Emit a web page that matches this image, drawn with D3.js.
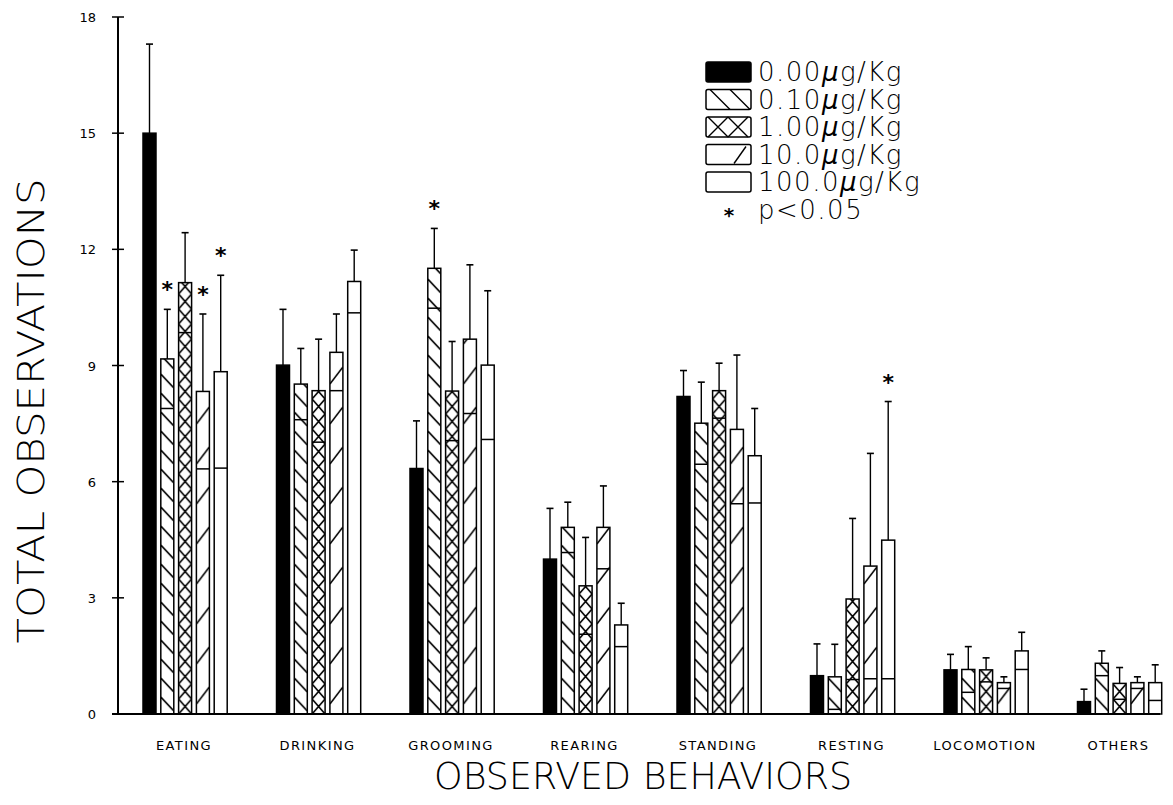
<!DOCTYPE html>
<html>
<head>
<meta charset="utf-8">
<script src="https://cdn.jsdelivr.net/npm/d3@7"></script>
<style>
	body { margin: 0; background: white; }
	svg text { font-family: "DejaVu Sans", sans-serif; fill: black; }
	svg text.light { font-family: "DejaVu Sans ExtraLight", "DejaVu Sans", sans-serif; font-weight: 200; }
</style>
</head>
<body>
<div id="visualizationWrapper"></div>
<script>

let w = 1173;
let h = 805;

// data
let categories = ["EATING", "DRINKING", "GROOMING", "REARING", "STANDING", "RESTING", "LOCOMOTION", "OTHERS"];
let doses = ["0.00", "0.10", "1.00", "10.0", "100.0"];

let mean000 = [15.0, 9.01, 6.34, 4.00, 8.20, 0.99, 1.14, 0.32];
let mean010 = [9.17, 8.52, 11.51, 4.82, 7.51, 0.96, 1.15, 1.31];
let mean100 = [11.14, 8.35, 8.34, 3.31, 8.35, 2.97, 1.14, 0.79];
let mean10 = [8.33, 9.34, 9.68, 4.82, 7.35, 3.82, 0.81, 0.81];
let mean1000 = [8.84, 11.17, 9.01, 2.30, 6.67, 4.49, 1.63, 0.81];

let se000 = [2.30, 1.44, 1.23, 1.31, 0.67, 0.82, 0.40, 0.32];
let se010 = [1.28, 0.92, 1.03, 0.65, 1.06, 0.84, 0.59, 0.32];
let se100 = [1.29, 1.33, 1.28, 1.25, 0.71, 2.08, 0.31, 0.41];
let se10 = [2.00, 0.99, 1.92, 1.07, 1.92, 2.91, 0.15, 0.15];
let se1000 = [2.49, 0.81, 1.92, 0.56, 1.22, 3.58, 0.48, 0.46];

let significant = [["EATING", "0.10"], ["EATING", "10.0"], ["EATING", "100.0"], ["GROOMING", "0.10"], ["RESTING", "100.0"]];

let yTicks = [0, 3, 6, 9, 12, 15, 18];

let means = [mean000, mean010, mean100, mean10, mean1000];
let ses = [se000, se010, se100, se10, se1000];

let data = [];
categories.forEach(function(c, ci){
	doses.forEach(function(d, di){
		data.push({
			cat: c, dose: d, ci: ci, di: di,
			mean: means[di][ci], se: ses[di][ci],
			sig: significant.some(s => s[0] == c && s[1] == d)
		});
	});
});


let viz = d3.select("#visualizationWrapper").append("svg")
	.attr("width", w)
	.attr("height", h)
	.style("background-color", "white")
;

let axisX = 118;
let xScale = d3.scaleBand().domain(categories).range([143, 143 + 8 * 133.5]);
let x1Scale = d3.scaleBand().domain(doses).range([0, 84.2]).paddingInner(0.27).paddingOuter(0);
let yScale = d3.scaleLinear().domain([0, 18]).range([714, 17]);
let bw = x1Scale.bandwidth();

function barX(d){
	return xScale(d.cat) + x1Scale(d.dose);
}

// one pattern per bar so the hatching lines up with each bar's left edge
let patternPaths = {
	"0.10": { h: 19, d: "M0,2 L" + bw + ",16" },
	"1.00": { h: 15, d: "M0,0 L" + bw + ",15 M" + bw + ",0 L0,15" },
	"10.0": { h: 40, d: "M0,30 L" + bw + ",13" }
};

let defs = viz.append("defs");
let patterns = defs.selectAll("pattern")
	.data(data.filter(d => patternPaths[d.dose]))
	.enter()
	.append("pattern")
		.attr("id", d => "pat-" + d.ci + "-" + d.di)
		.attr("patternUnits", "userSpaceOnUse")
		.attr("x", d => barX(d))
		.attr("y", yScale(0))
		.attr("width", bw)
		.attr("height", d => patternPaths[d.dose].h)
;
patterns.append("rect")
	.attr("width", bw)
	.attr("height", d => patternPaths[d.dose].h)
	.attr("fill", "white");
patterns.append("path")
	.attr("d", d => patternPaths[d.dose].d)
	.attr("stroke", "black")
	.attr("stroke-width", 1.6)
	.attr("fill", "none");


let graphGroup = viz.append("g").attr("class", "graphGroup");

// error bars (upper half only)
graphGroup.selectAll(".errline").data(data).enter()
	.append("line")
		.attr("x1", d => barX(d) + bw / 2)
		.attr("x2", d => barX(d) + bw / 2)
		.attr("y1", d => yScale(d.mean))
		.attr("y2", d => yScale(d.mean + d.se))
		.attr("stroke", "black")
		.attr("stroke-width", 1.4)
;
graphGroup.selectAll(".errcap").data(data).enter()
	.append("line")
		.attr("x1", d => barX(d) + bw / 2 - 3.5)
		.attr("x2", d => barX(d) + bw / 2 + 3.5)
		.attr("y1", d => yScale(d.mean + d.se))
		.attr("y2", d => yScale(d.mean + d.se))
		.attr("stroke", "black")
		.attr("stroke-width", 1.6)
;

// bars
graphGroup.selectAll(".datapoint").data(data).enter()
	.append("rect")
		.attr("class", "datapoint")
		.attr("x", d => barX(d))
		.attr("y", d => yScale(d.mean))
		.attr("width", bw)
		.attr("height", d => yScale(0) - yScale(d.mean))
		.attr("fill", d => d.di == 0 ? "black" : (patternPaths[d.dose] ? "url(#pat-" + d.ci + "-" + d.di + ")" : "white"))
		.attr("stroke", "black")
		.attr("stroke-width", 1.5)
;

// lower end of the error bar shows as a line across the bar
graphGroup.selectAll(".lowline").data(data.filter(d => d.di > 0)).enter()
	.append("line")
		.attr("x1", d => barX(d))
		.attr("x2", d => barX(d) + bw)
		.attr("y1", d => yScale(Math.max(0, d.mean - d.se)))
		.attr("y2", d => yScale(Math.max(0, d.mean - d.se)))
		.attr("stroke", "black")
		.attr("stroke-width", 1.5)
;

// stars
graphGroup.selectAll(".star").data(data.filter(d => d.sig)).enter()
	.append("text")
		.attr("x", d => barX(d) + bw / 2)
		.attr("y", d => yScale(d.mean + d.se) - 12)
		.attr("text-anchor", "middle")
		.style("font-size", "22px")
		.style("font-weight", "bold")
		.text("*")
;

// axes
viz.append("line")
	.attr("x1", axisX).attr("x2", axisX)
	.attr("y1", yScale(0)).attr("y2", yScale(18))
	.attr("stroke", "black").attr("stroke-width", 2);
viz.append("line")
	.attr("x1", axisX - 6).attr("x2", 1160)
	.attr("y1", yScale(0)).attr("y2", yScale(0))
	.attr("stroke", "black").attr("stroke-width", 2);

viz.selectAll(".ytick").data(yTicks).enter()
	.append("line")
		.attr("x1", axisX - 6).attr("x2", axisX + 6)
		.attr("y1", d => yScale(d)).attr("y2", d => yScale(d))
		.attr("stroke", "black").attr("stroke-width", 1.5);
viz.selectAll(".ylabel").data(yTicks).enter()
	.append("text")
		.attr("x", axisX - 22)
		.attr("y", d => yScale(d) + 5)
		.attr("text-anchor", "end")
		.style("font-size", "13px")
		.text(d => d);

viz.selectAll(".xlabel").data(categories).enter()
	.append("text")
		.attr("x", d => xScale(d) + 41)
		.attr("y", 750)
		.attr("text-anchor", "middle")
		.style("font-size", "13px")
		.style("letter-spacing", "1.4px")
		.text(d => d);

viz.append("text")
	.attr("class", "light")
	.attr("transform", "translate(44,411) rotate(-90)")
	.attr("text-anchor", "middle")
	.attr("textLength", 465)
	.attr("lengthAdjust", "spacingAndGlyphs")
	.style("font-size", "37px")
	.text("TOTAL OBSERVATIONS");

viz.append("text")
	.attr("class", "light")
	.attr("x", 643)
	.attr("y", 789)
	.attr("text-anchor", "middle")
	.attr("textLength", 418)
	.attr("lengthAdjust", "spacingAndGlyphs")
	.style("font-size", "38px")
	.text("OBSERVED BEHAVIORS");

// legend
let legend = viz.append("g").attr("transform", "translate(706,62)");
let rowH = 27.5;
let legendRows = legend.selectAll(".lrow").data(doses).enter()
	.append("g")
		.attr("transform", (d, i) => "translate(0," + (i * rowH) + ")");
legendRows.append("rect")
	.attr("width", 45).attr("height", 20)
	.attr("rx", 2)
	.attr("fill", (d, i) => i == 0 ? "black" : "white")
	.attr("stroke", "black").attr("stroke-width", 1.5);
let swatchLines = {
	"0.10": "M4,0 L24,20 M24,0 L44,20",
	"1.00": "M2,0 L22,20 M22,0 L2,20 M22,0 L42,20 M42,0 L22,20",
	"10.0": "M28,19 L40,2"
};
legendRows.append("path")
	.attr("d", d => swatchLines[d] || "")
	.attr("stroke", "black").attr("stroke-width", 1.4).attr("fill", "none");
let ltext = legendRows.append("text")
	.attr("class", "light")
	.attr("x", 52)
	.attr("y", 19)
	.style("font-size", "26px")
	.style("letter-spacing", "1.5px");
ltext.append("tspan").text(d => d);
ltext.append("tspan").style("font-style", "italic").text("\u00b5");
ltext.append("tspan").text("g/Kg");

legend.append("text")
	.attr("x", 23).attr("y", 5 * rowH + 22)
	.attr("text-anchor", "middle")
	.style("font-size", "20px")
	.style("font-weight", "bold")
	.text("*");
legend.append("text")
	.attr("class", "light")
	.attr("x", 52).attr("y", 5 * rowH + 19)
	.style("font-size", "26px")
	.style("letter-spacing", "1.5px")
	.text("p<0.05");

</script>
</body>
</html>
